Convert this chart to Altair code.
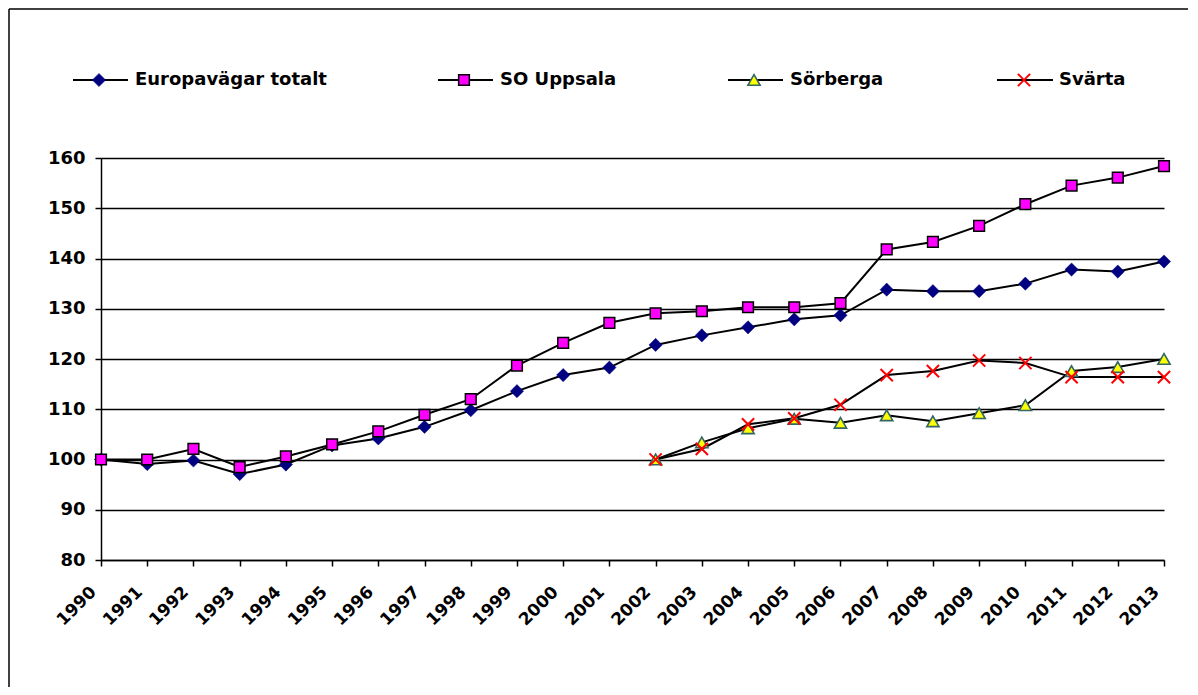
import altair as alt
import pandas as pd

# ---- data ----
years = list(range(1990, 2014))
europa = [100, 99.1, 99.8, 97.1, 99.0, 102.8, 104.2, 106.5, 109.8, 113.6, 116.8, 118.3,
          122.8, 124.7, 126.3, 127.9, 128.7, 133.8, 133.5, 133.5, 135.0, 137.8, 137.4, 139.4]
uppsala = [100, 100, 102.1, 98.5, 100.6, 103.0, 105.6, 108.9, 112.0, 118.7, 123.2, 127.2,
           129.1, 129.5, 130.3, 130.3, 131.1, 141.8, 143.3, 146.5, 150.8, 154.5, 156.1, 158.4]
local_years = list(range(2002, 2014))
sorberga = [100, 103.4, 106.2, 108.1, 107.3, 108.8, 107.6, 109.2, 110.8, 117.6, 118.4, 120.0]
svarta = [100, 102.1, 107.0, 108.2, 110.9, 116.8, 117.6, 119.7, 119.2, 116.4, 116.4, 116.4]

series_names = ["Europavägar totalt", "SO Uppsala", "Sörberga", "Svärta"]
y_ticks = list(range(80, 161, 10))

rows = []
for name, xs, vs in [(series_names[0], years, europa), (series_names[1], years, uppsala),
                     (series_names[2], local_years, sorberga), (series_names[3], local_years, svarta)]:
    for yr, v in zip(xs, vs):
        rows.append({"year": yr, "value": v, "series": name})
df = pd.DataFrame(rows)
leg_df = pd.DataFrame({"series": series_names})

FONT = "DejaVu Sans"
X_PATH = "M-1,-1L1,1M-1,1L1,-1"

styles = {
    "Europavägar totalt": dict(shape="diamond", filled=True, fill="#000080", stroke="#000080", strokeWidth=0.5, size=175),
    "SO Uppsala": dict(shape="square", filled=True, fill="#FF00FF", stroke="#000000", strokeWidth=1.5, size=115),
    "Sörberga": dict(shape="triangle-up", filled=True, fill="#FFFF00", stroke="#336666", strokeWidth=1.6, size=150),
    "Svärta": dict(shape=X_PATH, filled=False, stroke="#FF0000", strokeWidth=2, size=150),
}

x_enc = alt.X("year:Q",
              scale=alt.Scale(domain=[1990, 2013], nice=False, zero=False),
              axis=alt.Axis(values=years, format="d", labelAngle=315, labelAlign="right",
                            labelBaseline="middle", labelOffset=-8, labelPadding=23,
                            labelFontSize=17, labelFontWeight="bold", labelColor="black",
                            labelFont=FONT,
                            domainColor="black", domainWidth=1.5, tickColor="black",
                            tickWidth=1.5, tickSize=6, grid=False, labelOverlap=False),
              title=None)
y_enc = alt.Y("value:Q",
              scale=alt.Scale(domain=[80, 160], nice=False, zero=False),
              axis=alt.Axis(values=y_ticks, grid=True, gridColor="black", gridWidth=1.4,
                            gridOpacity=1, labelFontSize=18, labelFontWeight="bold",
                            labelFont=FONT,
                            labelColor="black", labelPadding=10, domainColor="black",
                            domainWidth=1.5, tickColor="black", tickWidth=1.5, tickSize=6),
              title=None)

base = alt.Chart(df)
lines = base.mark_line(color="black", strokeWidth=2).encode(x=x_enc, y=y_enc, detail="series:N")

layers = []
# outer frame (left and top edges visible)
one = alt.Chart(leg_df).transform_filter(alt.datum.series == series_names[0])
frame_left = one.mark_rule(color="black", strokeWidth=1.5).encode(
    x=alt.value(-92), y=alt.value(-149), y2=alt.value(560))
frame_top = one.mark_rule(color="black", strokeWidth=1.5).encode(
    x=alt.value(-92), x2=alt.value(1150), y=alt.value(-149))
layers += [frame_left, frame_top, lines]

for name in series_names:
    st = styles[name]
    layers.append(base.transform_filter(alt.datum.series == name).mark_point(opacity=1, **st)
                  .encode(x=x_enc, y=y_enc))

# legend (line + marker + text), laid out along the top
leg_y = -78
leg_pos = [(-28, 27, -2, 34), (337, 392, 363, 399), (627, 682, 653, 689), (896, 952, 923, 958)]
for name, (x0, x1, mx, tx) in zip(series_names, leg_pos):
    st = styles[name]
    item = alt.Chart(leg_df).transform_filter(alt.datum.series == name)
    layers.append(item.mark_rule(color="black", strokeWidth=2)
                  .encode(x=alt.value(x0), x2=alt.value(x1), y=alt.value(leg_y)))
    layers.append(item.mark_point(opacity=1, **st).encode(x=alt.value(mx), y=alt.value(leg_y)))
    layers.append(item.mark_text(align="left", baseline="middle", fontSize=18, fontWeight="bold",
                                 font=FONT, color="black")
                  .encode(x=alt.value(tx), y=alt.value(leg_y), text="series:N"))

chart = alt.layer(*layers).properties(
    width=1063, height=402,
    autosize=alt.AutoSizeParams(type="none"),
    padding={"left": 93, "top": 150, "right": 24, "bottom": 127},
).configure(font=FONT, background="white").configure_view(strokeWidth=0)

chart.save("out.html", embed_options={"renderer": "svg", "actions": False})
